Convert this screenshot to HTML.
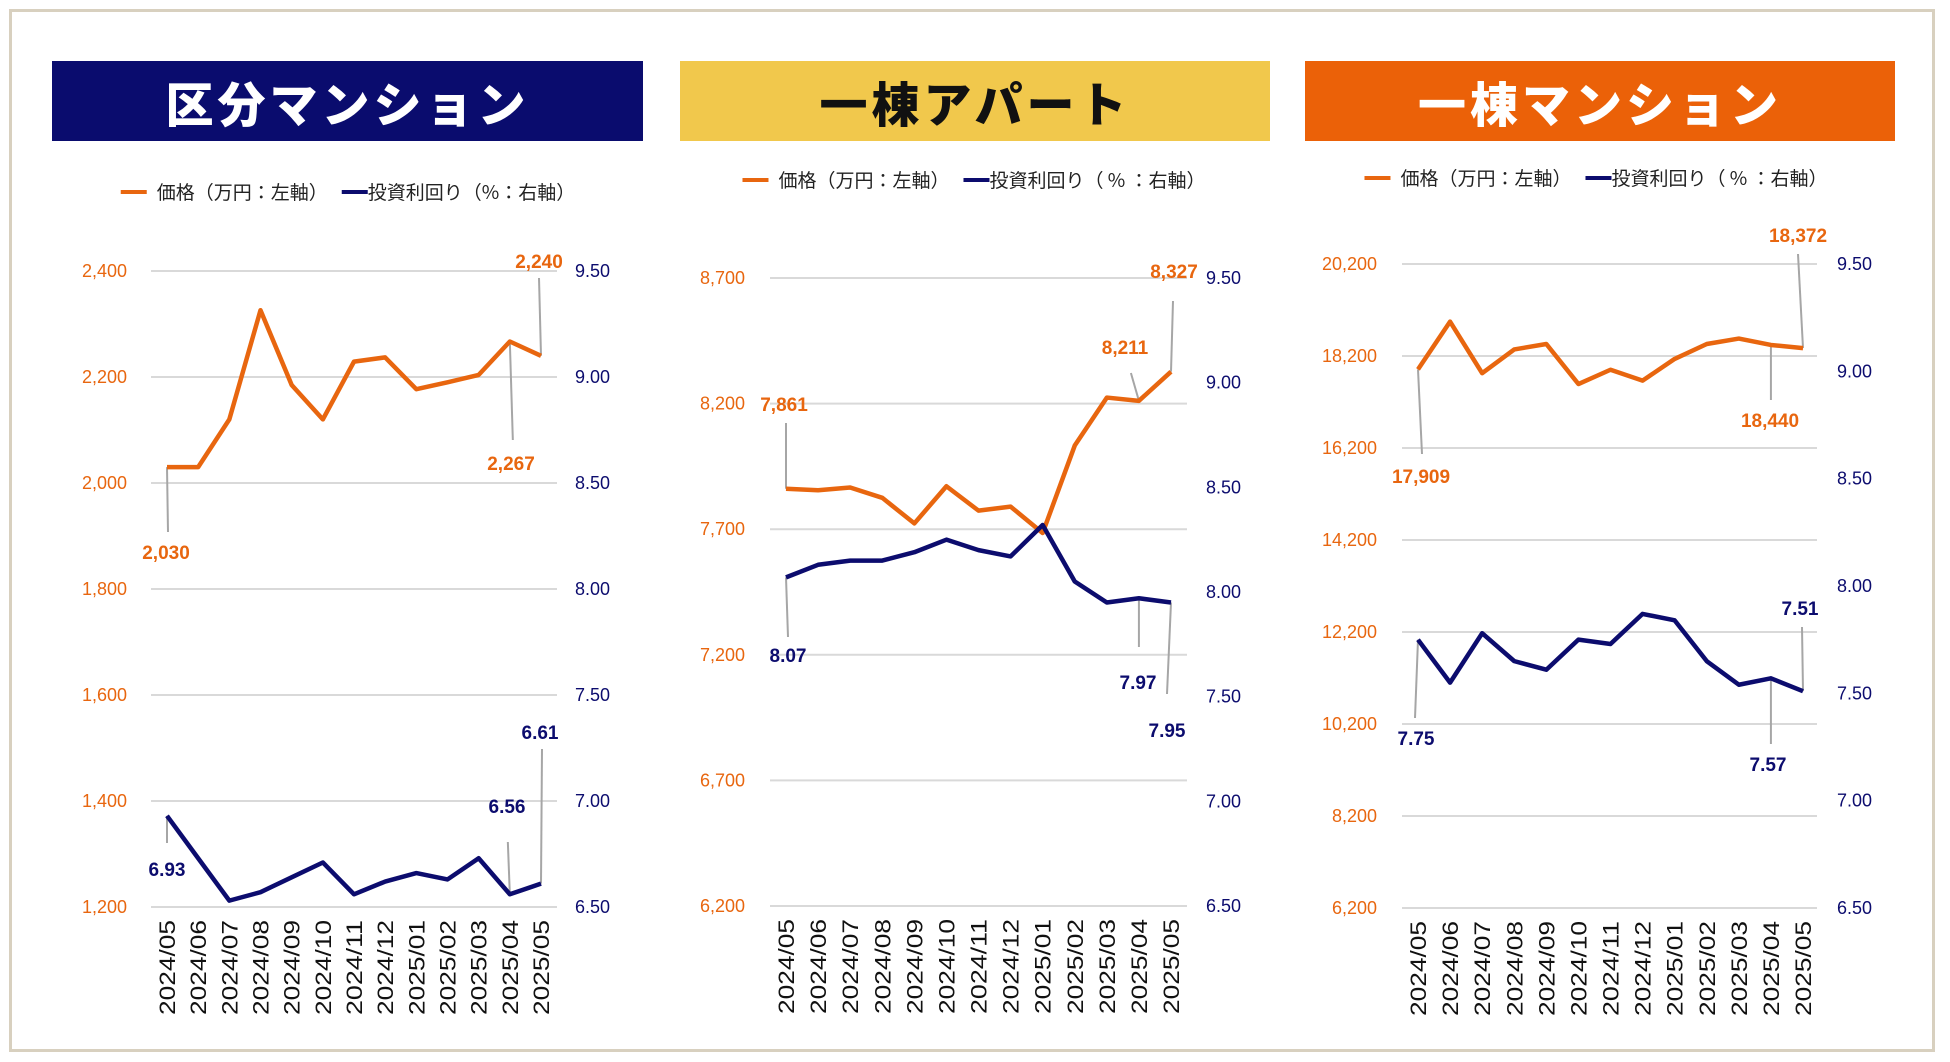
<!DOCTYPE html>
<html><head><meta charset="utf-8">
<style>
html,body{margin:0;padding:0;background:#fff;}
body{width:1950px;height:1062px;position:relative;overflow:hidden;font-family:"Liberation Sans","Noto Sans CJK JP",sans-serif;}
#frame{position:absolute;left:9px;top:9px;width:1926px;height:1043px;border:3px solid #d8d0bf;box-sizing:border-box;}
.bar{position:absolute;top:61px;height:80px;display:flex;align-items:center;justify-content:center;font-family:"Noto Sans CJK JP","Liberation Sans",sans-serif;font-weight:900;font-size:48px;letter-spacing:4px;}
.legend{position:absolute;font-family:"Noto Sans CJK JP","Liberation Sans",sans-serif;font-size:19px;color:#222;white-space:nowrap;transform:translateX(-50%);display:flex;align-items:center;}
.sw{display:inline-block;width:26px;height:4px;margin-right:10px;}
svg{position:absolute;left:0;top:0;}
</style></head><body>
<div id="frame"></div>
<div class="bar" style="left:52px;width:591px;background:#0a0c6e;color:#fff;">区分マンション</div>
<div class="bar" style="left:680px;width:590px;background:#f1c84c;color:#111;">一棟アパート</div>
<div class="bar" style="left:1305px;width:590px;background:#eb6108;color:#fff;">一棟マンション</div>

<div class="legend" style="left:348px;top:178px;"><span class="sw" style="background:#e8660f"></span>価格（万円：左軸）<span class="sw" style="background:#0c0c6e;margin-left:14px;margin-right:0"></span>投資利回り（%：右軸）</div>
<div class="legend" style="left:974px;top:166px;"><span class="sw" style="background:#e8660f"></span>価格（万円：左軸）<span class="sw" style="background:#0c0c6e;margin-left:14px;margin-right:0"></span>投資利回り（ % ：右軸）</div>
<div class="legend" style="left:1596px;top:164px;"><span class="sw" style="background:#e8660f"></span>価格（万円：左軸）<span class="sw" style="background:#0c0c6e;margin-left:14px;margin-right:0"></span>投資利回り（ % ：右軸）</div>

<svg id="chart" width="1950" height="1062"></svg>
<script>
const categories = ["2024/05","2024/06","2024/07","2024/08","2024/09","2024/10","2024/11","2024/12","2025/01","2025/02","2025/03","2025/04","2025/05"];

const price1 = [2030,2030,2120,2326,2185,2120,2229,2237,2177,2190,2204,2267,2240];
const yield1 = [6.93,6.73,6.53,6.57,6.64,6.71,6.56,6.62,6.66,6.63,6.73,6.56,6.61];
const leftTicks1 = [1200,1400,1600,1800,2000,2200,2400];
const rightTicks1 = [6.5,7.0,7.5,8.0,8.5,9.0,9.5];

const price2 = [7861,7855,7866,7825,7723,7871,7774,7790,7685,8033,8224,8211,8327];
const yield2 = [8.07,8.13,8.15,8.15,8.19,8.25,8.20,8.17,8.32,8.05,7.95,7.97,7.95];
const leftTicks2 = [6200,6700,7200,7700,8200,8700];
const rightTicks2 = [6.5,7.0,7.5,8.0,8.5,9.0,9.5];

const price3 = [17909,18947,17827,18343,18461,17591,17901,17665,18137,18461,18579,18440,18372];
const yield3 = [7.75,7.55,7.78,7.65,7.61,7.75,7.73,7.87,7.84,7.65,7.54,7.57,7.51];
const leftTicks3 = [6200,8200,10200,12200,14200,16200,18200,20200];
const rightTicks3 = [6.5,7.0,7.5,8.0,8.5,9.0,9.5];

const NS = "http://www.w3.org/2000/svg";
const svg = document.getElementById('chart');
const ORANGE = "#e8660f", NAVY = "#0c0c6e";
function mk(tag, attrs, parent){const e=document.createElementNS(NS,tag);for(const k in attrs)e.setAttribute(k,attrs[k]);(parent||svg).appendChild(e);return e;}
function fmt(v){return v.toLocaleString('en-US');}

function drawChart(cfg){
  const g = mk('g',{});
  
  
  const lmin=cfg.lt[0], lmax=cfg.lt[cfg.lt.length-1];
  const rmin=cfg.rt[0], rmax=cfg.rt[cfg.rt.length-1];
  const yL = v => cfg.bot - (v-lmin)/(lmax-lmin)*(cfg.bot-cfg.top);
  const yR = v => cfg.bot - (v-rmin)/(rmax-rmin)*(cfg.bot-cfg.top);
  const xS = i => cfg.x0 + i*(cfg.x1-cfg.x0)/(categories.length-1);
  cfg.lt.forEach(t=>{
    const ln = mk('line',{x1:cfg.gx0,x2:cfg.gx1,y1:yL(t),y2:yL(t),stroke:'#d9d9d9','stroke-width':2},g);
    
    
    const tx = mk('text',{x:cfg.lx,y:yL(t)+6,'text-anchor':'end','font-size':18,fill:ORANGE},g);
    tx.textContent = fmt(t);
    
    
  });
  cfg.rt.forEach(t=>{
    const tx = mk('text',{x:cfg.rx,y:yR(t)+6,'font-size':18,fill:NAVY},g);
    tx.textContent = t.toFixed(2);
    
    
  });
  categories.forEach((c,i)=>{
    const x = xS(i)+8, y = cfg.bot+13;
    const tx = mk('text',{x:x,y:y,'text-anchor':'end','font-size':22,fill:'#111',textLength:95,lengthAdjust:'spacingAndGlyphs',transform:`rotate(-90 ${x} ${y})`},g);
    tx.textContent = c;
    
    
  });
  cfg.labels.forEach(L=>{
    const arr = L.s==='p'?cfg.price:cfg.yld;
    const px = xS(L.i), py = L.s==='p'?yL(arr[L.i]):yR(arr[L.i]);
    const ln = mk('line',{x1:px,y1:py,x2:px+L.ex,y2:L.ey,stroke:'#a6a6a6','stroke-width':2},g);
    
    
  });
  const pp = mk('polyline',{points:cfg.price.map((v,i)=>xS(i)+','+yL(v)).join(' '),fill:'none',stroke:ORANGE,'stroke-width':4.5,'stroke-linejoin':'round'},g);
  
  
  const yp = mk('polyline',{points:cfg.yld.map((v,i)=>xS(i)+','+yR(v)).join(' '),fill:'none',stroke:NAVY,'stroke-width':4.5,'stroke-linejoin':'round'},g);
  
  
  cfg.labels.forEach(L=>{
    const arr = L.s==='p'?cfg.price:cfg.yld;
    const txt = L.s==='p'?fmt(arr[L.i]):arr[L.i].toFixed(2);
    const tx = mk('text',{x:L.tx,y:L.ty+7,'text-anchor':'middle','font-size':19,'font-weight':'bold',fill:L.s==='p'?ORANGE:NAVY},g);
    tx.textContent = txt;
    
    
  });
}

drawChart({name:'chart-kubun-mansion',price:price1,yld:yield1,lt:leftTicks1,rt:rightTicks1,
  gx0:151,gx1:557,x0:167,x1:541,top:271,bot:907,lx:127,rx:575,
  labels:[{s:'p',i:0,tx:166,ty:552,ex:1,ey:532},{s:'p',i:12,tx:539,ty:261,ex:-2,ey:278},{s:'p',i:11,tx:511,ty:463,ex:3,ey:440},
          {s:'y',i:0,tx:167,ty:869,ex:0,ey:843},{s:'y',i:11,tx:507,ty:806,ex:-2,ey:842},{s:'y',i:12,tx:540,ty:732,ex:1,ey:749}]});

drawChart({name:'chart-ittou-apart',price:price2,yld:yield2,lt:leftTicks2,rt:rightTicks2,
  gx0:770,gx1:1187,x0:786,x1:1171,top:278,bot:906,lx:745,rx:1206,
  labels:[{s:'p',i:0,tx:784,ty:404,ex:0,ey:423},{s:'y',i:0,tx:788,ty:655,ex:2,ey:637},{s:'p',i:11,tx:1125,ty:347,ex:-8,ey:373},
          {s:'p',i:12,tx:1174,ty:271,ex:2,ey:301},{s:'y',i:11,tx:1138,ty:682,ex:0,ey:647},{s:'y',i:12,tx:1167,ty:730,ex:-4,ey:694}]});

drawChart({name:'chart-ittou-mansion',price:price3,yld:yield3,lt:leftTicks3,rt:rightTicks3,
  gx0:1402,gx1:1817,x0:1418,x1:1803,top:264,bot:908,lx:1377,rx:1837,
  labels:[{s:'p',i:0,tx:1421,ty:476,ex:4,ey:454},{s:'p',i:12,tx:1798,ty:235,ex:-5,ey:254},{s:'p',i:11,tx:1770,ty:420,ex:0,ey:400},
          {s:'y',i:0,tx:1416,ty:738,ex:-3,ey:718},{s:'y',i:11,tx:1768,ty:764,ex:0,ey:744},{s:'y',i:12,tx:1800,ty:608,ex:-1,ey:627}]});
</script>
</body></html>
